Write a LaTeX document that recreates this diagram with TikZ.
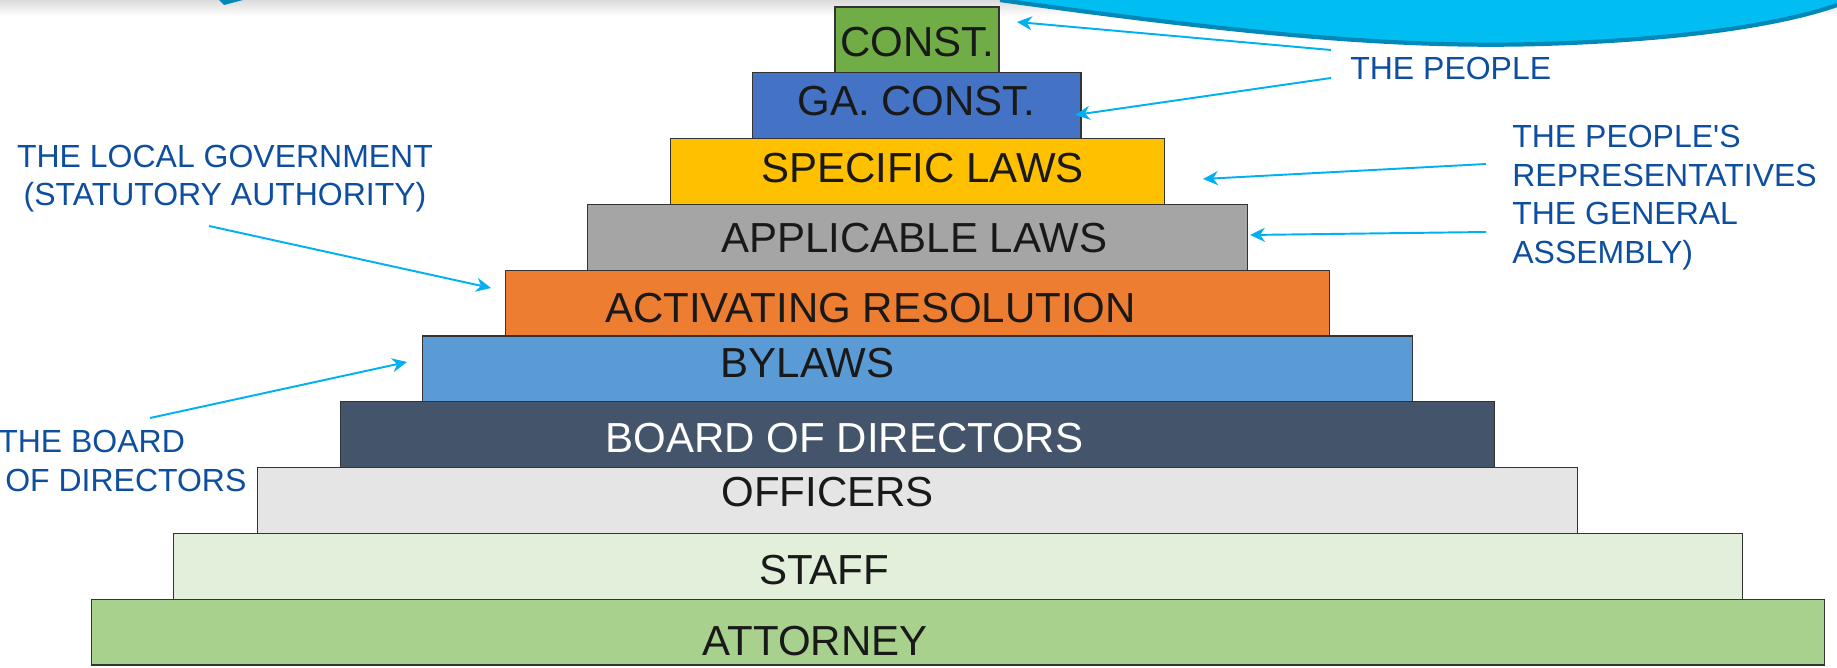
\documentclass[tikz,border=0pt]{standalone}
\usepackage{fontspec}
\setmainfont{Liberation Sans}
\usetikzlibrary{arrows.meta}

\definecolor{constgreen}{HTML}{70AD47}
\definecolor{gablue}{HTML}{4472C4}
\definecolor{specgold}{HTML}{FFC000}
\definecolor{appgray}{HTML}{A5A5A5}
\definecolor{actorange}{HTML}{ED7D31}
\definecolor{bylblue}{HTML}{5B9BD5}
\definecolor{boardslate}{HTML}{44546A}
\definecolor{offgray}{HTML}{E5E5E5}
\definecolor{staffmint}{HTML}{E2EFDA}
\definecolor{attgreen}{HTML}{A9D18E}
\definecolor{notetext}{HTML}{0E4E9E}
\definecolor{arrowblue}{HTML}{00B0F0}
\definecolor{swoosh}{HTML}{00BEF2}
\definecolor{swooshedge}{HTML}{0088B8}

\begin{document}
\begin{tikzpicture}[x=0.02cm,y=-0.02cm,>={Stealth[length=8.5pt,width=8pt]},
  bar/.style={draw=black!80,line width=0.6pt,inner sep=0pt,minimum height=1.316cm},
  bartext/.style={font=\fontsize{23.9}{28}\selectfont,text=black!90,inner sep=0pt},
  note/.style={font=\fontsize{18.2}{22}\selectfont,text=notetext,inner sep=0pt},
  pointer/.style={->,draw=arrowblue,fill=arrowblue,line width=1.1pt}]

  \useasboundingbox (0,0) rectangle (1837,668);

  % slide background bits
  \shade[top color=gray!28,bottom color=white] (0,0) rectangle (1837,16);
  \fill[swooshedge] (219,0) -- (243,0) -- (224,5) -- cycle;
  \fill[swoosh] (1000,0) .. controls (1250,35) and (1400,48) .. (1540,44)
    .. controls (1680,40) and (1780,25) .. (1837,5) -- (1837,0) -- cycle;
  \draw[swooshedge,line width=2.4pt] (1000,0) .. controls (1250,35) and (1400,48) .. (1540,44)
    .. controls (1680,40) and (1780,25) .. (1837,5);

  % the pyramid
  \node[bar,fill=constgreen,minimum width=3.28cm,
    label={[bartext,yshift=-0.04cm]center:CONST.}] (const) at (917,39.9) {};
  \node[bar,fill=gablue,minimum width=6.58cm,
    label={[bartext,yshift=0.1cm]center:GA. CONST.}] (ga) at (916.5,105.7) {};
  \node[bar,fill=specgold,minimum width=9.9cm,
    label={[bartext,xshift=0.1cm,yshift=0.06cm]center:SPECIFIC LAWS}] (spec) at (917.5,171.5) {};
  \node[bar,fill=appgray,minimum width=13.22cm,
    label={[bartext,xshift=-0.06cm,yshift=-0.02cm]center:APPLICABLE LAWS}] (app) at (917.5,237.3) {};
  \node[bar,fill=actorange,minimum width=16.5cm,
    label={[bartext,xshift=-0.94cm,yshift=-0.1cm]center:ACTIVATING RESOLUTION}] (act) at (917.5,303.1) {};
  \node[bar,fill=bylblue,minimum width=19.82cm,
    label={[bartext,xshift=-2.2cm,yshift=0.12cm]center:BYLAWS}] (byl) at (917.5,368.9) {};
  \node[bar,fill=boardslate,minimum width=23.1cm,
    label={[bartext,text=white,xshift=-1.46cm,yshift=-0.06cm]center:BOARD OF DIRECTORS}] (board) at (917.5,434.7) {};
  \node[bar,fill=offgray,minimum width=26.42cm,
    label={[bartext,xshift=-1.8cm,yshift=0.16cm]center:OFFICERS}] (off) at (917.5,500.5) {};
  \node[bar,fill=staffmint,minimum width=31.4cm,
    label={[bartext,xshift=-2.68cm,yshift=-0.08cm]center:STAFF}] (staff) at (958,566.3) {};
  \node[bar,fill=attgreen,minimum width=34.68cm,
    label={[bartext,xshift=-2.86cm,yshift=-0.17cm]center:ATTORNEY}] (att) at (958,632.1) {};

  % who makes what
  \node[note,anchor=west] (people) at (1350,68) {THE PEOPLE};
  \node[note,anchor=west,align=left] (reps) at (1512,197.5)
    {THE PEOPLE\textquotesingle S\\REPRESENTATIVES\\THE GENERAL\\ASSEMBLY)};
  \node[note,align=center] (localgov) at (225,178.5)
    {THE LOCAL GOVERNMENT\\(STATUTORY AUTHORITY)};
  \node[note,anchor=west,align=left] (boardnote) at (-2,461)
    {THE BOARD\\\hspace{0.14cm}OF DIRECTORS};

  \coordinate (tipconst) at (1017,22);
  \coordinate (tipga) at (1075,115);
  \coordinate (tipspec) at (1203,179);
  \coordinate (tipapp) at (1250,235);
  \coordinate (tipact) at (491,288);
  \coordinate (tipbyl) at (407,362);

  \draw[pointer] ([xshift=-0.38cm,yshift=0.36cm]people.west) -- (tipconst);
  \draw[pointer] ([xshift=-0.38cm,yshift=-0.2cm]people.west) -- (tipga);
  \draw[pointer] ([xshift=-0.52cm,yshift=0.67cm]reps.west) -- (tipspec);
  \draw[pointer] ([xshift=-0.52cm,yshift=-0.69cm]reps.west) -- (tipapp);
  \draw[pointer] ([xshift=-0.32cm,yshift=-0.95cm]localgov.center) -- (tipact);
  \draw[pointer] ([xshift=3.04cm,yshift=0.86cm]boardnote.west) -- (tipbyl);
\end{tikzpicture}
\end{document}
